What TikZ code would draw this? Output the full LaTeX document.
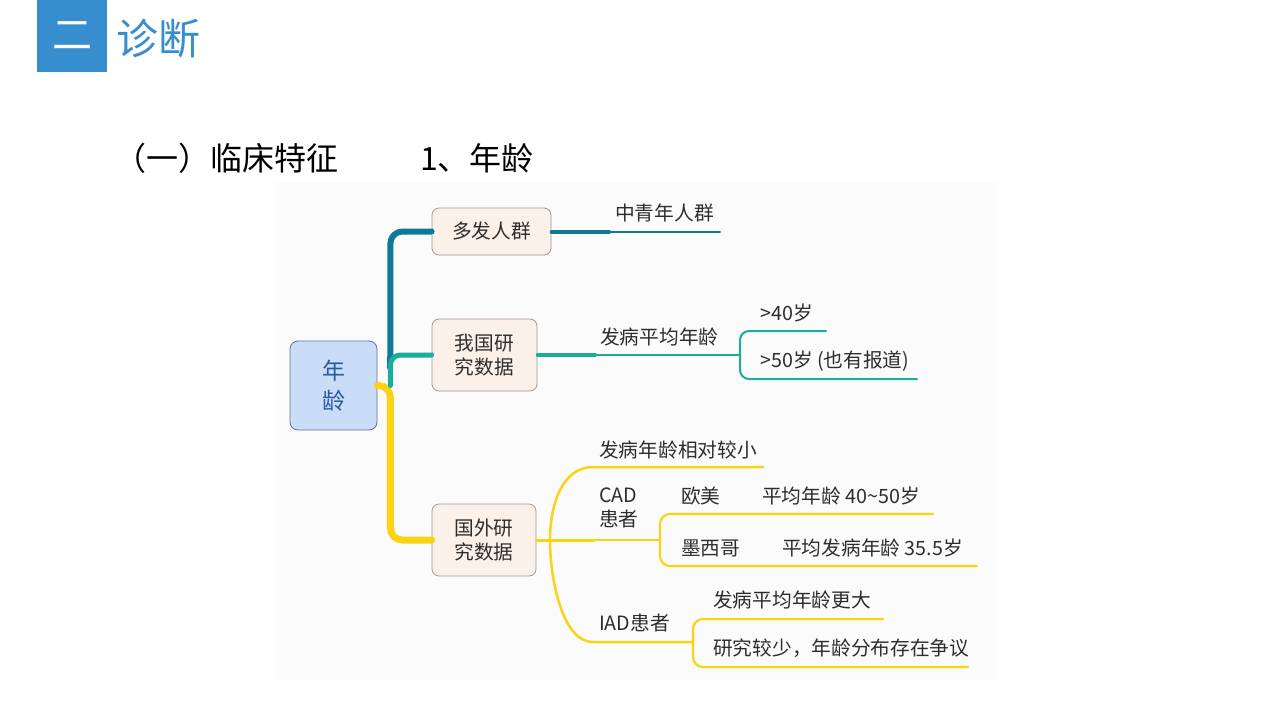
\documentclass[tikz,border=0pt]{standalone}
\usepackage{fontspec}
\setmainfont{Noto Sans CJK SC}
\newcommand{\fsz}[1]{\fontsize{#1pt}{#1pt}\selectfont}
\definecolor{hblue}{RGB}{55,142,206}
\definecolor{dteal}{RGB}{14,122,150}
\definecolor{lteal}{RGB}{26,172,156}
\definecolor{myel}{RGB}{250,212,20}
\definecolor{bfill}{RGB}{251,241,233}
\definecolor{bbord}{RGB}{160,150,145}
\definecolor{rfill}{RGB}{201,220,248}
\definecolor{rbord}{RGB}{100,115,145}
\definecolor{rtext}{RGB}{40,90,160}
\definecolor{txt}{RGB}{45,45,45}
\definecolor{bgpic}{RGB}{251,251,251}
\tikzset{
  lbl/.style={font=\fontsize{19.7pt}{24pt}\selectfont, text=txt, inner sep=0pt, anchor=west, align=left},
  branchbox/.style={draw=bbord, fill=bfill, rounded corners=7pt, line width=0.8pt,
     font=\fontsize{19.7pt}{24pt}\selectfont, text=txt, align=center, inner sep=0pt},
  conn/.style={line cap=round, line join=round},
}
\begin{document}
\begin{tikzpicture}[x=1pt,y=-1pt]
\useasboundingbox (0,0) rectangle (1280,720);
% faint background of the mind map picture
\fill[bgpic] (275,183) rectangle (997,680);
% header
\node[fill=hblue, minimum width=70pt, minimum height=72pt, inner sep=0pt, text=white, font=\fsz{40}] (hbox) at (72,36) {二};
\node[anchor=west, inner sep=0pt, text=hblue, font=\fsz{42}] (htitle) at (116,39) {诊断};
\node[anchor=west, inner sep=0pt, text=black, font=\fsz{32}] (sub1) at (114,158) {（一）临床特征};
\node[anchor=west, inner sep=0pt, text=black, font=\fsz{32}] (sub2) at (420,158) {1、年龄};
% root
\node[draw=rbord, fill=rfill, rounded corners=8pt, line width=0.8pt, minimum width=87pt, minimum height=89pt,
      inner sep=0pt, align=center, text=rtext, font=\fontsize{23pt}{30pt}\selectfont] (root) at (333.5,385.5) {年\\龄};
% branch boxes
\node[branchbox, minimum width=119pt, minimum height=47pt] (n1) at (491.5,231.5) {多发人群};
\node[branchbox, minimum width=105pt, minimum height=72pt] (n2) at (484.5,355) {我国研\\究数据};
\node[branchbox, minimum width=104pt, minimum height=72pt] (n3) at (484,540) {国外研\\究数据};
% main connectors
\draw[conn, myel, line width=7pt, rounded corners=12pt] (root.east) -- ++(13,0) |- (n3.west);
\draw[conn, dteal, line width=6pt, rounded corners=12pt] (root.east) ++(13,-28) |- (n1.west);
\draw[conn, dteal, line width=6pt] (root.east) ++(13,-28) -- ++(0,10);
\draw[conn, lteal, line width=5pt, rounded corners=10pt] (root.east) ++(13,0) |- (n2.west);
% labels
\node[lbl] (t1) at (615,213) {中青年人群};
\node[lbl] (t2) at (600,337) {发病平均年龄};
\node[lbl] (t3) at (760,313) {>40岁};
\node[lbl] (t4) at (760,361) {>50岁 (也有报道)};
\node[lbl] (t5) at (599,450) {发病年龄相对较小};
\node[lbl] (t6) at (599,508) {CAD\\患者};
\node[lbl] (t7) at (681,496) {欧美};
\node[lbl] (t8) at (762,496) {平均年龄 40\textasciitilde50岁};
\node[lbl] (t9) at (681,548) {墨西哥};
\node[lbl] (t10) at (782,548) {平均发病年龄 35.5岁};
\node[lbl] (t11) at (599,623) {IAD患者};
\node[lbl] (t12) at (713,600) {发病平均年龄更大};
\node[lbl] (t13) at (713,648) {研究较少，年龄分布存在争议};
% line ends
\coordinate (e1) at (720,232);
\coordinate (b2) at (740,355);
\coordinate (e3) at (826,331);
\coordinate (e4) at (917,379);
\coordinate (e5) at (763,467);
\coordinate (bc) at (660,540);
\coordinate (e8) at (933,514);
\coordinate (e10) at (977,566);
\coordinate (bi) at (693,642);
\coordinate (e12) at (883,619);
\coordinate (e13) at (968,667);
% branch 1
\draw[conn, dteal, line width=2pt] (n1.east |- e1) -- (e1);
\draw[conn, dteal, line width=3.2pt] (n1.east |- e1) -- ++(58,0);
% branch 2
\draw[conn, lteal, line width=2pt] (n2.east) -- (b2);
\draw[conn, lteal, line width=3.2pt] (n2.east) -- ++(58,0);
\draw[conn, lteal, line width=2pt, rounded corners=9pt] (e3) -| (b2) |- (e4);
% branch 3
\draw[conn, myel, line width=3pt] (n3.east) -- ++(58,0);
\draw[conn, myel, line width=2.2pt] (n3.east) -- (bc);
\draw[conn, myel, line width=2.5pt] (e5) -- (593,467) .. controls (562,467) and (550,505) .. (550,540)
   .. controls (550,578) and (562,642) .. (593,642) -- (bi);
\draw[conn, myel, line width=2.2pt, rounded corners=10pt] (e8) -| (bc) |- (e10);
\draw[conn, myel, line width=2.2pt, rounded corners=10pt] (e12) -| (bi) |- (e13);
\end{tikzpicture}
\end{document}
